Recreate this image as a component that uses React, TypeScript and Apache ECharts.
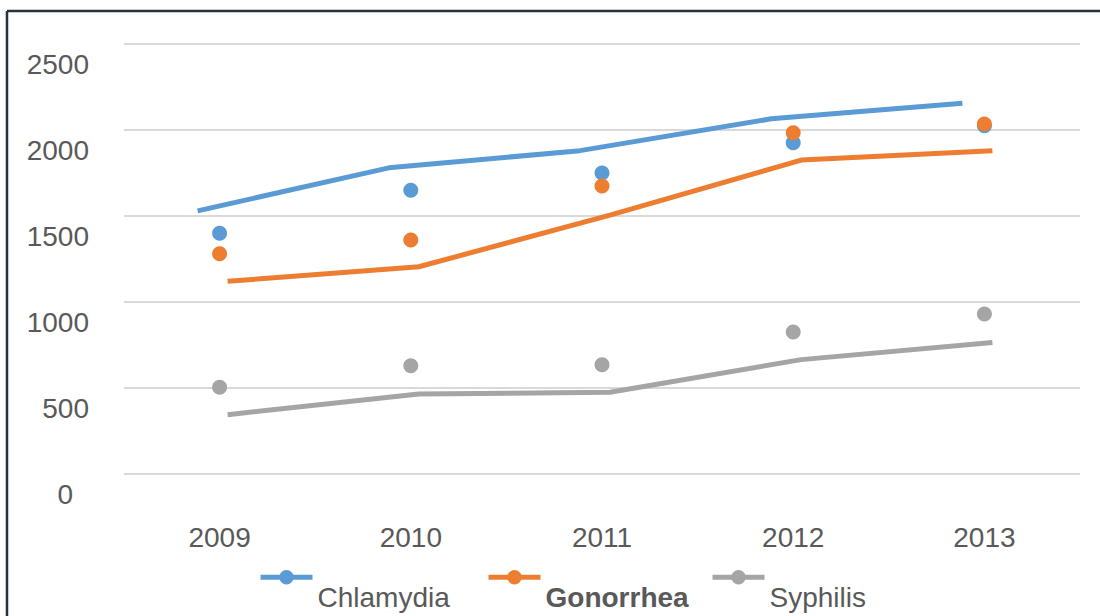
import React, { useEffect, useRef } from "react";
import * as echarts from "echarts";

const years = ["2009", "2010", "2011", "2012", "2013"];
const yTicks = { min: 0, max: 2500, interval: 500 };

// dots
const chlamydiaPoints = [1400, 1650, 1750, 1926, 2025];
const gonorrheaPoints = [1280, 1360, 1675, 1984, 2035];
const syphilisPoints = [505, 630, 635, 825, 930];

// lines
const chlamydiaLine = [1530, 1780, 1880, 2065, 2155];
const gonorrheaLine = [1120, 1205, 1505, 1825, 1880];
const syphilisLine = [345, 465, 475, 665, 765];

const names = ["Chlamydia", "Gonorrhea", "Syphilis"];
const colors = ["#5b9bd5", "#ed7d31", "#a5a5a5"];

const FONT = "'Liberation Sans', Arial, sans-serif";
const TXT = "#595959";

export default function App() {
  const ref = useRef<HTMLDivElement>(null);
  useEffect(() => {
    if (!ref.current) return;
    const chart = echarts.init(ref.current, undefined, { renderer: "svg" });

    const hiddenX = (gridIndex: number) => ({
      type: "category" as const,
      gridIndex,
      data: years,
      show: false,
      boundaryGap: true,
    });
    const hiddenY = (gridIndex: number) => ({
      type: "value" as const,
      gridIndex,
      ...yTicks,
      show: false,
      splitLine: { show: false },
    });

    const legendItem = (i: number, left: number) => ({
      data: [names[i]],
      left,
      top: 570,
      padding: 0,
      itemWidth: 52,
      itemHeight: 18,
      lineStyle: { width: 5 },
      formatter: "{a|{name}}",
      textStyle: {
        fontFamily: FONT,
        fontSize: 28,
        color: TXT,
        fontWeight: i === 1 ? "bold" : "normal",
        rich: {
          a: {
            fontFamily: FONT,
            fontSize: 28,
            color: TXT,
            fontWeight: i === 1 ? "bold" : "normal",
            padding: [40, 0, 0, 0],
          },
        },
      },
    });

    chart.setOption({
      animation: false,
      backgroundColor: "#ffffff",
      textStyle: { fontFamily: FONT },
      graphic: [
        {
          type: "line",
          shape: { x1: 7, y1: 11, x2: 1100, y2: 11 },
          style: { stroke: "#27313b", lineWidth: 2.5 },
          silent: true,
        },
        {
          type: "line",
          shape: { x1: 7, y1: 11, x2: 7, y2: 616 },
          style: { stroke: "#27313b", lineWidth: 2.5 },
          silent: true,
        },
      ],
      grid: [
        { left: 124, right: 20, top: 44, bottom: 142 },
        { left: 102, right: 42, top: 44, bottom: 142 },
        { left: 132, right: 12, top: 44, bottom: 142 },
      ],
      xAxis: [
        {
          type: "category",
          gridIndex: 0,
          data: years,
          boundaryGap: true,
          axisLine: { show: false },
          axisTick: { show: false },
          axisLabel: { fontFamily: FONT, fontSize: 28, color: TXT, margin: 49 },
        },
        hiddenX(1),
        hiddenX(2),
      ],
      yAxis: [
        {
          type: "value",
          gridIndex: 0,
          ...yTicks,
          axisLine: { show: false },
          axisTick: { show: false },
          splitLine: { lineStyle: { color: "#d9d9d9", width: 2 } },
          axisLabel: {
            fontFamily: FONT,
            fontSize: 28,
            color: TXT,
            margin: 35,
            verticalAlign: "middle",
            padding: [40, 0, 0, 0],
            formatter: (v: number) => (v === 0 ? "{z|0}" : String(v)),
            rich: { z: { fontFamily: FONT, fontSize: 28, color: TXT, padding: [0, 16, 0, 0] } },
          },
        },
        hiddenY(1),
        hiddenY(2),
      ],
      legend: [legendItem(0, 258), legendItem(1, 486), legendItem(2, 710)],
      series: [
        {
          name: names[0],
          type: "line",
          xAxisIndex: 1,
          yAxisIndex: 1,
          data: chlamydiaLine,
          symbol: "circle",
          showSymbol: false,
          color: colors[0],
          lineStyle: { width: 5, color: colors[0] },
          silent: true,
        },
        {
          name: names[1],
          type: "line",
          xAxisIndex: 2,
          yAxisIndex: 2,
          data: gonorrheaLine,
          symbol: "circle",
          showSymbol: false,
          color: colors[1],
          lineStyle: { width: 5, color: colors[1] },
          silent: true,
        },
        {
          name: names[2],
          type: "line",
          xAxisIndex: 2,
          yAxisIndex: 2,
          data: syphilisLine,
          symbol: "circle",
          showSymbol: false,
          color: colors[2],
          lineStyle: { width: 5, color: colors[2] },
          silent: true,
        },
        {
          name: "Chlamydia points",
          type: "scatter",
          xAxisIndex: 0,
          yAxisIndex: 0,
          data: chlamydiaPoints,
          symbolSize: 15,
          itemStyle: { color: colors[0], opacity: 1 },
        },
        {
          name: "Gonorrhea points",
          type: "scatter",
          xAxisIndex: 0,
          yAxisIndex: 0,
          data: gonorrheaPoints,
          symbolSize: 15,
          itemStyle: { color: colors[1], opacity: 1 },
        },
        {
          name: "Syphilis points",
          type: "scatter",
          xAxisIndex: 0,
          yAxisIndex: 0,
          data: syphilisPoints,
          symbolSize: 15,
          itemStyle: { color: colors[2], opacity: 1 },
        },
      ],
    });
    return () => chart.dispose();
  }, []);

  return (
    <div
      ref={ref}
      style={{ position: "fixed", left: 0, top: 0, width: 1100, height: 616, background: "#fff" }}
    />
  );
}
